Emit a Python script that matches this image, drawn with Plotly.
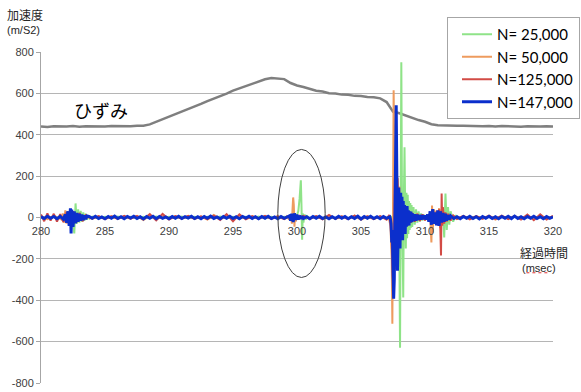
import plotly.graph_objects as go

# ---- strain trace (drawn on the acceleration scale), 0.5 ms sampling ----
strain = [
    (280.0, 440), (280.5, 438), (281.0, 441), (281.5, 439), (282.0, 440), (282.5, 442),
    (283.0, 439), (283.5, 441), (284.0, 440), (284.5, 442), (285.0, 440), (285.5, 442),
    (286.0, 441), (286.5, 443), (287.0, 441), (287.5, 443), (288.0, 444), (288.5, 450),
    (289.0, 462), (289.5, 474), (290.0, 488), (290.5, 499), (291.0, 513), (291.5, 524),
    (292.0, 538), (292.5, 549), (293.0, 563), (293.5, 574), (294.0, 588), (294.5, 599),
    (295.0, 613), (295.5, 624), (296.0, 638), (296.5, 647), (297.0, 660), (297.5, 668),
    (298.0, 674), (298.5, 672), (299.0, 669), (299.5, 650), (300.0, 638), (300.5, 631),
    (301.0, 623), (301.5, 613), (302.0, 609), (302.5, 601), (303.0, 599), (303.5, 594),
    (304.0, 593), (304.5, 588), (305.0, 587), (305.5, 582), (306.0, 581), (306.5, 576),
    (307.0, 558), (307.5, 512), (308.0, 504), (308.5, 492), (309.0, 483), (309.5, 471),
    (310.0, 463), (310.5, 451), (311.0, 446), (311.5, 444), (312.0, 445), (312.5, 443),
    (313.0, 444), (313.5, 442), (314.0, 443), (314.5, 441), (315.0, 442), (315.5, 440),
    (316.0, 442), (316.5, 440), (317.0, 441), (317.5, 439), (318.0, 441), (318.5, 439),
    (319.0, 440), (319.5, 441), (320.0, 440),
]

# ---- acceleration, N = 25,000 ----
n25000 = [
    (280.0, 4), (280.5, -5), (281.0, 4), (281.5, -3),
    (281.8, 5), (281.9, -8), (282.0, 10), (282.1, -12), (282.2, 15), (282.3, -20),
    (282.4, 30), (282.5, -40), (282.6, -77), (282.7, 68), (282.8, -30), (282.9, 40),
    (283.0, -25), (283.1, 32), (283.2, -20), (283.3, 25), (283.4, -15), (283.5, 18),
    (283.6, -10), (283.7, 8), (283.8, -5),
    (284.0, 4), (284.5, -5), (285.0, 4), (285.5, -3), (286.0, 5), (286.5, -4), (287.0, 4),
    (287.5, -5), (288.0, 3), (288.5, -4), (289.0, 5), (289.5, -4), (290.0, 4), (290.5, -3),
    (291.0, 5), (291.5, -4), (292.0, 4), (292.5, -5), (293.0, 3), (293.5, -4), (294.0, 5),
    (294.5, -4), (295.0, 4), (295.5, -5), (296.0, 3), (296.5, -4), (297.0, 5), (297.5, -4),
    (298.0, 4), (298.5, -5), (299.0, 3), (299.5, -4),
    (299.6, 5), (299.7, -8), (299.8, 10), (299.9, -12), (300.0, 12), (300.1, 30),
    (300.2, 90), (300.3, 180), (300.35, 60), (300.4, -107), (300.45, 20), (300.5, -25),
    (300.6, 15), (300.7, -10), (300.8, 6),
    (301.0, -4), (301.5, 5), (302.0, -4), (302.5, 3), (303.0, -5), (303.5, 4), (304.0, -4),
    (304.5, 5), (305.0, -3), (305.5, 4), (306.0, -5), (306.5, 4), (307.0, -4), (307.5, 5),
    (307.6, -10), (307.7, 20), (307.8, -40), (307.9, 60), (308.0, -200), (308.05, -630),
    (308.1, 200), (308.15, 750), (308.2, 100), (308.25, -200), (308.3, -387), (308.35, 100),
    (308.4, 340), (308.45, 50), (308.5, -150), (308.55, 120), (308.6, -100), (308.65, 110),
    (308.7, -80), (308.75, 80), (308.8, -60), (308.85, 70), (308.9, -50), (308.95, 60),
    (309.0, -45), (309.1, 50), (309.2, -35), (309.3, 40), (309.4, -25), (309.5, 30),
    (309.6, -20), (309.7, 20), (309.8, -15), (309.9, 14), (310.0, -10),
    (310.2, 8), (310.4, -10), (310.6, 15), (310.8, -20), (311.0, 25), (311.2, -30),
    (311.4, 40), (311.5, -97), (311.6, 116), (311.7, -60), (311.8, 50), (311.9, -35),
    (312.0, 30), (312.2, -20), (312.4, 12),
    (312.5, -5), (313.0, 4), (313.5, -4), (314.0, 5), (314.5, -3), (315.0, 4), (315.5, -5),
    (316.0, 4), (316.5, -4), (317.0, 5), (317.5, -3), (318.0, 4), (318.5, -5), (319.0, 4),
    (319.5, -4), (320.0, 3),
]

# ---- acceleration, N = 50,000 ----
n50000 = [
    (280.0, 6), (280.5, -8), (281.0, 9), (281.5, -7),
    (281.6, -10), (281.7, 20), (281.8, -25), (281.9, 34), (282.0, -30), (282.1, 30),
    (282.2, -40), (282.3, 35), (282.4, -30), (282.5, 25), (282.6, -22), (282.7, 20),
    (282.8, -18), (282.9, 15), (283.0, -14), (283.1, 12), (283.2, -10), (283.3, 8),
    (283.4, -6),
    (283.5, 5), (284.0, -6), (284.5, 5), (285.0, -4), (285.5, 6), (286.0, -5),
    (286.5, 4), (287.0, -6), (287.5, 8), (288.0, -12), (288.5, 10), (289.0, -6),
    (289.5, 5), (290.0, -4), (290.5, 6), (291.0, -5), (291.5, 4), (292.0, -6),
    (292.5, 5), (293.0, -10), (293.5, 12), (294.0, -6), (294.5, 5), (295.0, -4),
    (295.5, 6), (296.0, -5), (296.5, 4), (297.0, -6), (297.5, 5), (298.0, -4),
    (298.5, 6), (299.0, -5),
    (299.2, 6), (299.4, -10), (299.5, 15), (299.6, -30), (299.65, 40), (299.7, 97),
    (299.75, 60), (299.8, -44), (299.85, 20), (299.9, -20), (300.0, 12), (300.1, -10),
    (300.2, 7), (300.4, -5),
    (300.5, 5), (301.0, -6), (301.5, 4), (302.0, -5), (302.5, 6), (303.0, -4),
    (303.5, 5), (304.0, -6), (304.5, 9), (305.0, -11), (305.5, 6), (306.0, -4),
    (306.5, 5), (307.0, -6),
    (307.1, 5), (307.2, -10), (307.3, -40), (307.35, -150), (307.4, -200), (307.45, -513),
    (307.5, 200), (307.55, 615), (307.6, 300), (307.65, -100), (307.7, -250), (307.75, -80),
    (307.8, 120), (307.85, 194), (307.9, -60), (307.95, -150), (308.0, 150), (308.05, -80),
    (308.1, 100), (308.15, -90), (308.2, 70), (308.25, -60), (308.3, 60), (308.35, -50),
    (308.4, 45), (308.5, -40), (308.6, 35), (308.7, -30), (308.8, 28), (308.9, -25),
    (309.0, 22), (309.2, -20), (309.4, 18), (309.6, -15), (309.8, 14), (310.0, -12),
    (310.2, 10), (310.3, -15), (310.4, 20), (310.5, -121), (310.55, 58), (310.6, -73),
    (310.7, 40), (310.8, -30), (310.9, 35), (311.0, -40), (311.1, 45), (311.2, -50),
    (311.3, 40), (311.4, -30), (311.5, 25), (311.6, -20), (311.8, 15), (312.0, -12),
    (312.2, 8),
    (312.5, -5), (313.0, 6), (313.5, -4), (314.0, 5), (314.5, -6), (315.0, 9),
    (315.5, -10), (316.0, 5), (316.5, -4), (317.0, 6), (317.5, -5), (318.0, 4),
    (318.5, -6), (319.0, 5), (319.5, -4), (320.0, 5),
]

# ---- acceleration, N = 125,000 ----
n125000 = [
    (280.0, 15), (280.25, -18), (280.5, 20), (280.75, -15), (281.0, 18), (281.25, -20),
    (281.5, 16),
    (281.75, -22), (282.0, 25), (282.25, -28), (282.5, 30), (282.75, -25), (283.0, 22),
    (283.25, -18), (283.5, 12),
    (284.0, -6), (284.5, 7), (285.0, -8), (285.5, 6), (286.0, -7), (286.5, 8),
    (287.0, -6), (287.5, 7), (288.0, -9), (288.5, 16), (289.0, -14), (289.5, 17),
    (290.0, -10), (290.5, 7), (291.0, -6), (291.5, 8), (292.0, -7), (292.5, 6),
    (293.0, -8), (293.5, 9), (294.0, -12), (294.5, 16), (295.0, -18), (295.5, 15),
    (296.0, -9), (296.5, 7), (297.0, -6), (297.5, 8), (298.0, -7), (298.5, 6),
    (299.0, -8), (299.5, 9), (300.0, -7), (300.5, 8), (301.0, -6), (301.5, 7),
    (302.0, -9), (302.5, 12), (303.0, -7), (303.5, 6), (304.0, -8), (304.5, 9),
    (305.0, -7), (305.5, 6), (306.0, -8), (306.5, 7),
    (307.0, -10), (307.2, 12), (307.3, -30), (307.4, -120), (307.5, -300), (307.55, -200),
    (307.6, 150), (307.65, 190), (307.7, 120), (307.75, -200), (307.8, -100), (307.85, 190),
    (307.9, 100), (307.95, -120), (308.0, 110), (308.05, -90), (308.1, 80), (308.15, -70),
    (308.2, 60), (308.3, -50), (308.4, 45), (308.5, -40), (308.6, 35), (308.7, -30),
    (308.8, 28), (308.9, -25), (309.0, 22), (309.2, -20), (309.4, 18), (309.6, -16),
    (309.8, 15), (310.0, -14),
    (310.2, 12), (310.4, -15), (310.6, 20), (310.8, -25), (310.9, 30), (311.0, -35),
    (311.1, 40), (311.2, -60), (311.25, -184), (311.3, 116), (311.35, -40), (311.4, 50),
    (311.5, -30), (311.6, 25), (311.7, -20), (311.8, 18), (312.0, -15), (312.2, 10),
    (312.5, -7), (313.0, 8), (313.5, -9), (314.0, 7), (314.5, -6), (315.0, 8),
    (315.5, -7), (316.0, 9), (316.5, -8), (317.0, 7), (317.5, -10), (318.0, 14),
    (318.5, -13), (319.0, 15), (319.5, -10), (320.0, 8),
]

# ---- acceleration, N = 147,000 ----
n147000 = [
    (280.0, 4), (280.25, -5), (280.5, 6), (280.75, -4), (281.0, 5), (281.25, -6),
    (281.5, 5), (281.75, -8),
    (281.9, 15), (282.0, -25), (282.1, 30), (282.2, -40), (282.3, 44), (282.35, -77),
    (282.4, 38), (282.5, -45), (282.6, 30), (282.7, -28), (282.8, 22), (282.9, -20),
    (283.0, 18), (283.1, -15), (283.2, 14), (283.3, -12), (283.4, 10), (283.5, -8),
    (283.6, 7),
    (283.75, 5), (284.0, -4), (284.25, 6), (284.5, -5), (284.75, 3), (285.0, -6),
    (285.25, 5), (285.5, -4), (285.75, 7), (286.0, -5), (286.25, 4), (286.5, -6),
    (286.75, 5), (287.0, -3), (287.25, 6), (287.5, -5), (287.75, 4), (288.0, -7),
    (288.25, 5), (288.5, -4), (288.75, 6), (289.0, -6), (289.25, 5), (289.5, -4),
    (289.75, 3), (290.0, -6), (290.25, 5), (290.5, -4), (290.75, 6), (291.0, -5),
    (291.25, 4), (291.5, -3), (291.75, 6), (292.0, -5), (292.25, 4), (292.5, -6),
    (292.75, 5), (293.0, -4), (293.25, 7), (293.5, -5), (293.75, 3), (294.0, -6),
    (294.25, 5), (294.5, -4), (294.75, 6), (295.0, -5), (295.25, 4), (295.5, -6),
    (295.75, 5), (296.0, -3), (296.25, 6), (296.5, -5), (296.75, 4), (297.0, -6),
    (297.25, 5), (297.5, -4), (297.75, 6), (298.0, -5), (298.25, 3), (298.5, -6),
    (298.75, 5), (299.0, -4), (299.25, 6),
    (299.4, 8), (299.5, -15), (299.6, 18), (299.7, -22), (299.8, 20), (299.9, -12),
    (300.0, 14), (300.1, -10), (300.2, 9), (300.3, -7), (300.4, 6),
    (300.5, -5), (300.75, 4), (301.0, -6), (301.25, 5), (301.5, -4), (301.75, 6),
    (302.0, -5), (302.25, 3), (302.5, -6), (302.75, 4), (303.0, -5), (303.25, 6),
    (303.5, -4), (303.75, 5), (304.0, -6), (304.25, 4), (304.5, -5), (304.75, 6),
    (305.0, -7), (305.25, 5), (305.5, -4), (305.75, 6), (306.0, -5), (306.25, 4),
    (306.5, -6), (306.75, 5), (307.0, -4), (307.25, 3),
    (307.3, -5), (307.35, -30), (307.4, -120), (307.45, -60), (307.5, -250), (307.55, -392),
    (307.6, -300), (307.65, 100), (307.7, 300), (307.75, 542), (307.8, 200), (307.85, -257),
    (307.9, -100), (307.95, 145), (308.0, 40), (308.05, -150), (308.1, 120), (308.15, -60),
    (308.2, 100), (308.25, -110), (308.3, 80), (308.35, -70), (308.4, 60), (308.45, -80),
    (308.5, 50), (308.55, -45), (308.6, 55), (308.65, -40), (308.7, 35), (308.75, -38),
    (308.8, 30), (308.85, -25), (308.9, 28), (308.95, -22), (309.0, 20), (309.1, -18),
    (309.2, 16), (309.3, -15), (309.4, 14), (309.5, -12), (309.6, 12), (309.7, -10),
    (309.8, 11), (309.9, -9), (310.0, 10),
    (310.1, -10), (310.2, 15), (310.3, -20), (310.4, 30), (310.5, -35), (310.6, 40),
    (310.7, -30), (310.8, 25), (310.9, -38), (311.0, 35), (311.1, -40), (311.2, 30),
    (311.3, -25), (311.4, 22), (311.5, -20), (311.6, 18), (311.7, -15), (311.8, 12),
    (311.9, -10), (312.0, 8),
    (312.25, -5), (312.5, 4), (312.75, -6), (313.0, 5), (313.25, -4), (313.5, 6),
    (313.75, -5), (314.0, 4), (314.25, -7), (314.5, 5), (314.75, -4), (315.0, 6),
    (315.25, -5), (315.5, 4), (315.75, -6), (316.0, 5), (316.25, -4), (316.5, 6),
    (316.75, -5), (317.0, 7), (317.25, -5), (317.5, 4), (317.75, -6), (318.0, 5),
    (318.25, -4), (318.5, 6), (318.75, -5), (319.0, 4), (319.25, -6), (319.5, 5),
    (319.75, -4), (320.0, 3),
]

series_names = ["N= 25,000", "N= 50,000", "N=125,000", "N=147,000"]
series_data = [n25000, n50000, n125000, n147000]
series_colors = ["#8fe388", "#ee9b5e", "#d24b45", "#0b2fcc"]
series_widths = [2, 2, 2, 3]

x_ticks = [280, 285, 290, 295, 300, 305, 310, 315, 320]
y_ticks = [800, 600, 400, 200, 0, -200, -400, -600, -800]
y_ticktext = ["800", "600", "400", "200", "0", "-200", "-400", "-600", "-800"]

JP = "Noto Sans CJK JP"
LAT = "Liberation Sans, Arial, sans-serif"

fig = go.Figure()

st_t, st_v = zip(*strain)
fig.add_trace(go.Scatter(x=st_t, y=st_v, mode="lines", showlegend=False,
                         line=dict(color="#7f7f7f", width=2.5), hoverinfo="skip"))

for name, data, color, width in zip(series_names, series_data, series_colors, series_widths):
    t, v = zip(*data)
    fig.add_trace(go.Scatter(x=t, y=v, mode="lines", name=name,
                             line=dict(color=color, width=width)))

# ellipse highlighting the small event near 300 ms
fig.add_shape(type="circle", xref="x", yref="y", x0=298.5, x1=302.2, y0=-290, y1=329,
              line=dict(color="#404040", width=1))

# dotted red underline beneath "msec"
fig.add_shape(type="line", xref="paper", yref="paper", x0=0.948, x1=0.99, y0=0.333, y1=0.333,
              line=dict(color="#e03030", width=1, dash="dot"))


def px_x(px):
    return (px - 41) / 512


def px_y(py):
    return (383 - py) / 331


annotations = [
    dict(text="加速度", x=px_x(5), y=px_y(15), font=dict(family=JP, size=12, color="#262626")),
    dict(text="(m/S2)", x=px_x(5), y=px_y(30), font=dict(family=LAT, size=11, color="#262626")),
    dict(text="経過時間", x=px_x(518), y=px_y(252), font=dict(family=JP, size=12, color="#262626")),
    dict(text="(msec)", x=px_x(520), y=px_y(268), font=dict(family=LAT, size=11, color="#262626")),
    dict(text="ひずみ", x=px_x(72), y=px_y(110), font=dict(family=JP, size=18, color="#000000")),
]
for a in annotations:
    a.update(xref="paper", yref="paper", xanchor="left", yanchor="middle", showarrow=False)

fig.update_layout(
    width=581, height=392,
    margin=dict(l=41, r=28, t=52, b=9, autoexpand=False),
    paper_bgcolor="white", plot_bgcolor="white",
    annotations=annotations,
    xaxis=dict(range=[280, 320], tickvals=x_ticks, showgrid=False, zeroline=False,
               showline=False, ticks="", anchor="free", position=0.5,
               ticklabelstandoff=5,
               tickfont=dict(family=LAT, size=11, color="#404040")),
    yaxis=dict(range=[-800, 800], tickvals=y_ticks, ticktext=y_ticktext,
               showgrid=True, gridcolor="#b5b5b5", gridwidth=1, zeroline=False,
               showline=True, linecolor="#a6a6a6", linewidth=1,
               ticks="outside", ticklen=4, tickcolor="#a6a6a6",
               tickfont=dict(family=LAT, size=11, color="#404040")),
    legend=dict(x=px_x(447), y=px_y(17), xanchor="left", yanchor="top",
                bgcolor="white", bordercolor="#a6a6a6", borderwidth=1,
                font=dict(family="Lato, Liberation Sans, sans-serif", size=15, color="#000000"),
                indentation=9, tracegroupgap=0),
    showlegend=True,
)

fig.write_html("out.html")
